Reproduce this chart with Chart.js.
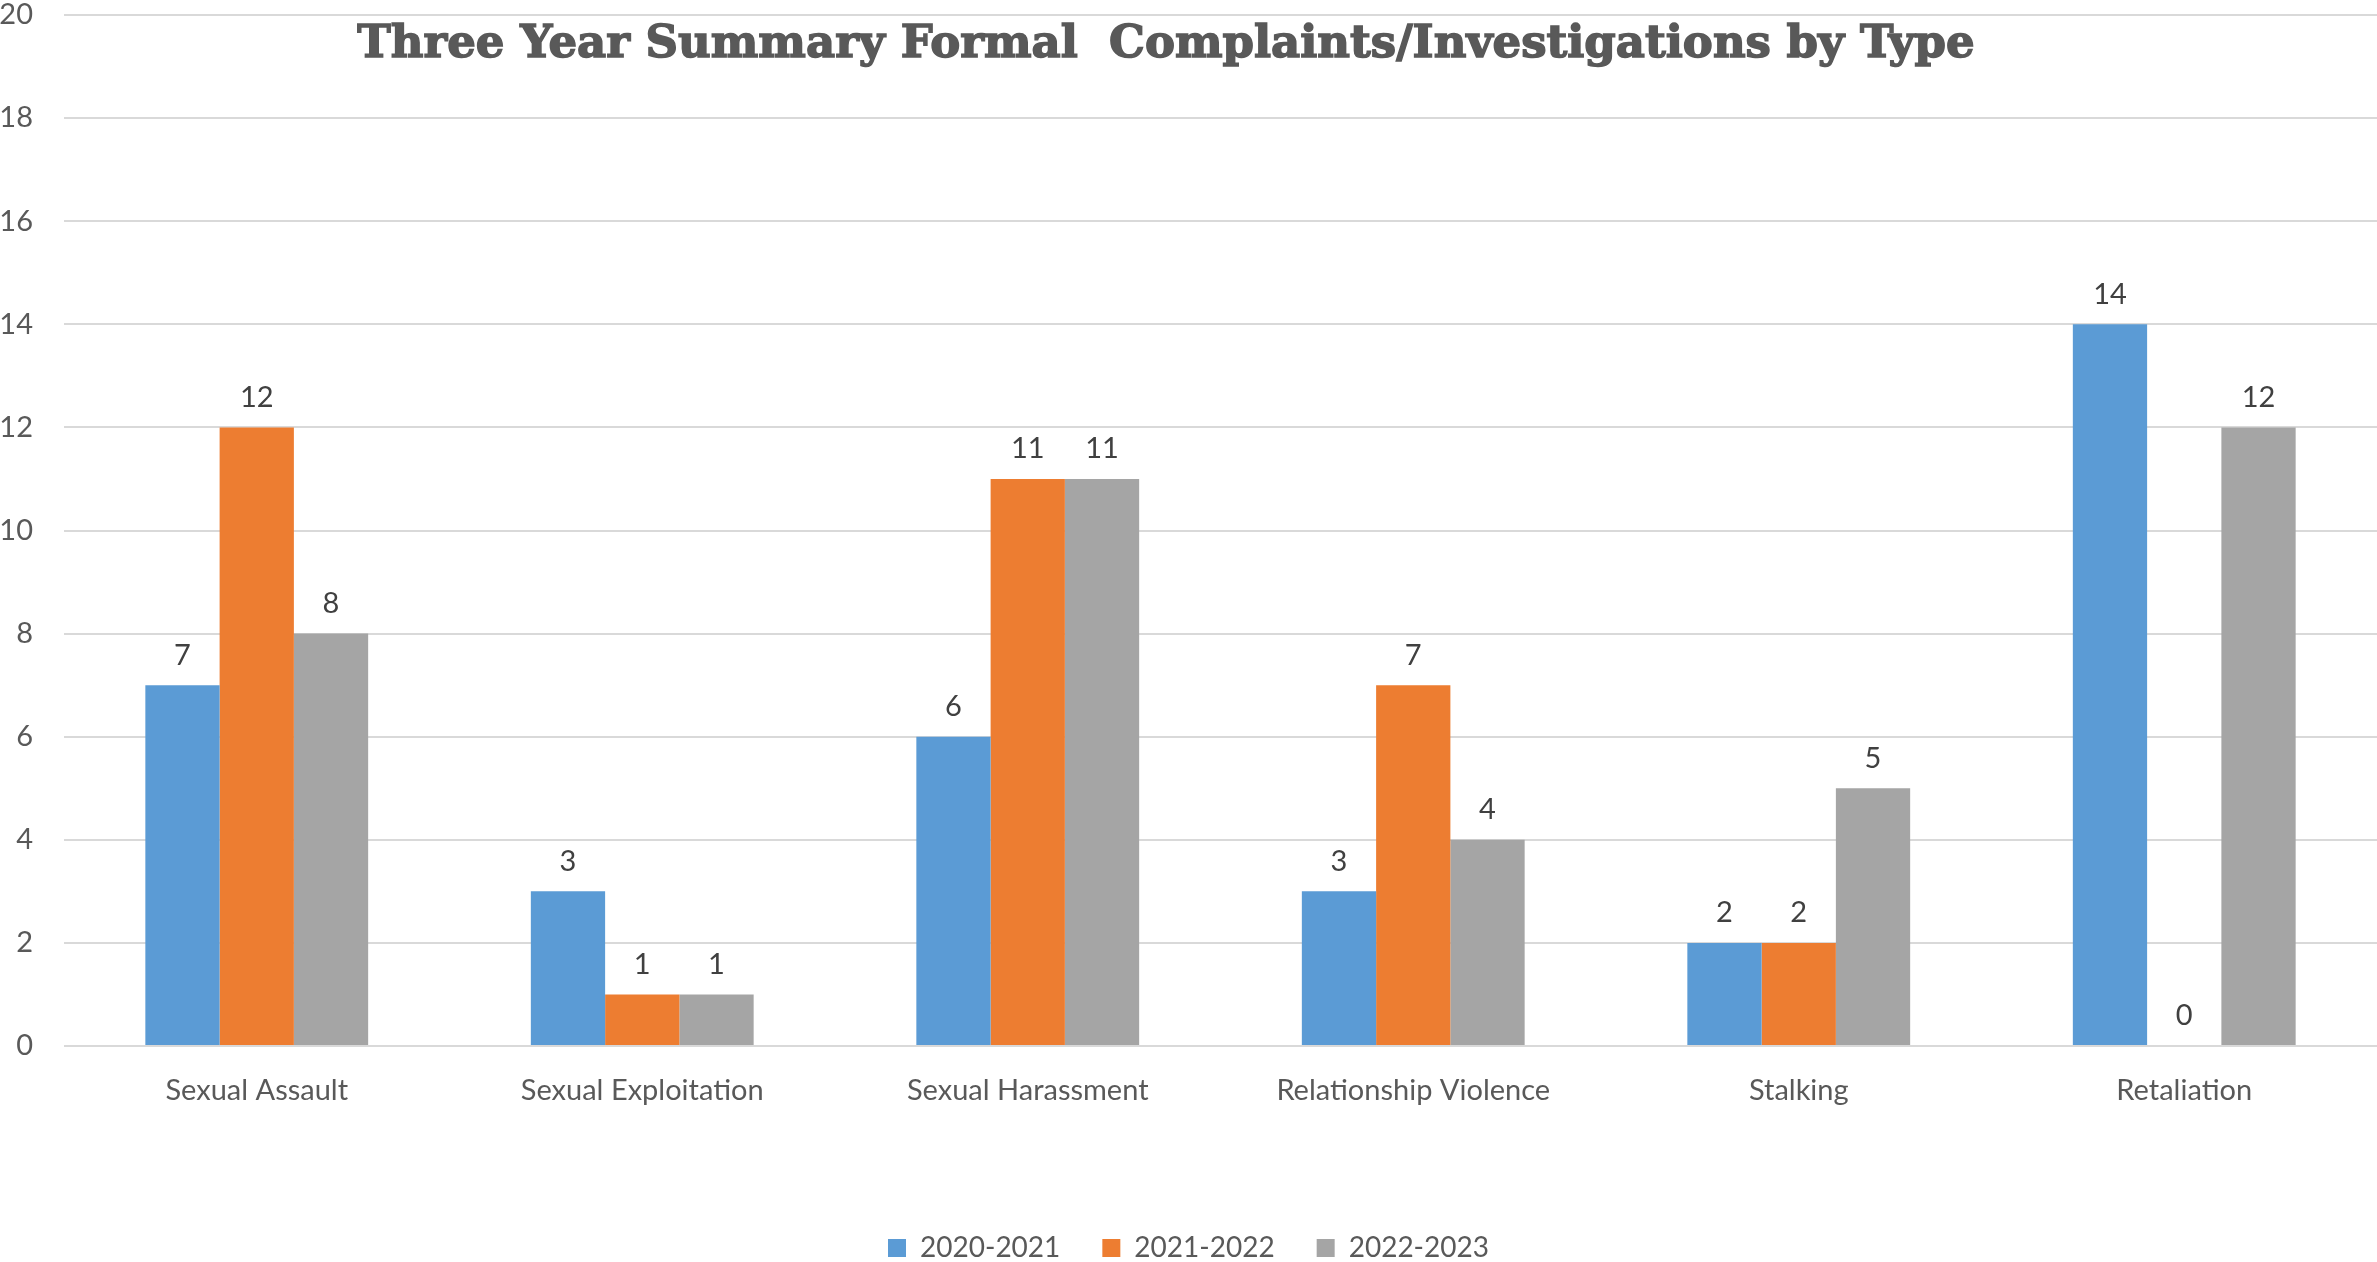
<!DOCTYPE html>
<html>
<head>
<meta charset="utf-8">
<script src="https://cdn.jsdelivr.net/npm/chart.js@4"></script>
<style>
  html, body { margin: 0; padding: 0; background: #ffffff; }
  #wrap { width: 2377px; height: 1262px; }
</style>
</head>
<body>
<div id="wrap"><canvas id="chart"></canvas></div>
<script>
const categories = ['Sexual Assault', 'Sexual Exploitation', 'Sexual Harassment', 'Relationship Violence', 'Stalking', 'Retaliation'];
const seriesNames = ['2020-2021', '2021-2022', '2022-2023'];
const values2020 = [7, 3, 6, 3, 2, 14];
const values2021 = [12, 1, 11, 7, 2, 0];
const values2022 = [8, 1, 11, 4, 5, 12];
const seriesColors = ['#5B9BD5', '#ED7D31', '#A5A5A5'];
const titleText = 'Three Year Summary Formal  Complaints/Investigations by Type';

const labelFont = 'Lato, "Open Sans", sans-serif';

// values printed above each bar
const barValueLabels = {
    id: 'barValueLabels',
    afterDatasetsDraw(chart) {
        const ctx = chart.ctx;
        ctx.save();
        ctx.fillStyle = '#404040';
        ctx.font = '29px ' + labelFont;
        ctx.textAlign = 'center';
        ctx.textBaseline = 'middle';
        chart.data.datasets.forEach((ds, i) => {
            chart.getDatasetMeta(i).data.forEach((bar, j) => {
                ctx.fillText(String(ds.data[j]), bar.x, bar.y - 30);
            });
        });
        ctx.restore();
    }
};

// title sits inside the plot area, between the top grid lines
const overlayTitle = {
    id: 'overlayTitle',
    afterDraw(chart) {
        const ctx = chart.ctx;
        ctx.save();
        ctx.fillStyle = '#595959';
        ctx.strokeStyle = '#595959';
        ctx.lineWidth = 1.5;
        ctx.font = 'bold 45px "DejaVu Serif", serif';
        ctx.textAlign = 'center';
        ctx.textBaseline = 'middle';
        ctx.fillText(titleText, 1166, 45);
        ctx.strokeText(titleText, 1166, 45);
        ctx.restore();
    }
};

new Chart(document.getElementById('chart'), {
    type: 'bar',
    data: {
        labels: categories,
        datasets: [
            { label: seriesNames[0], data: values2020, backgroundColor: seriesColors[0] },
            { label: seriesNames[1], data: values2021, backgroundColor: seriesColors[1] },
            { label: seriesNames[2], data: values2022, backgroundColor: seriesColors[2] }
        ]
    },
    options: {
        responsive: true,
        maintainAspectRatio: false,
        animation: false,
        layout: {
            padding: { top: 15, right: 0, bottom: -10, left: 0 }
        },
        datasets: {
            bar: {
                categoryPercentage: 0.578,
                barPercentage: 1.0,
                borderWidth: 0
            }
        },
        plugins: {
            title: { display: false },
            tooltip: { enabled: false },
            legend: {
                position: 'bottom',
                labels: {
                    color: '#595959',
                    font: { family: labelFont, size: 28 },
                    boxWidth: 18,
                    boxHeight: 18,
                    padding: 42
                }
            }
        },
        scales: {
            x: {
                grid: { display: false },
                border: { display: false },
                ticks: {
                    color: '#595959',
                    font: { family: labelFont, size: 29 },
                    padding: 19
                },
                afterFit(axis) {
                    axis.height = axis.chart.height + 10 - 1046 - axis.chart.legend.height;
                }
            },
            y: {
                min: 0,
                max: 20,
                border: { display: false },
                grid: {
                    color: '#d9d9d9',
                    lineWidth: 2,
                    drawTicks: false
                },
                ticks: {
                    stepSize: 2,
                    color: '#595959',
                    font: { family: labelFont, size: 29 },
                    padding: 31
                },
                afterFit(axis) {
                    axis.width = 64;
                    axis.paddingTop = 0;
                    axis.paddingBottom = 0;
                }
            }
        }
    },
    plugins: [barValueLabels, overlayTitle]
});
</script>
</body>
</html>
